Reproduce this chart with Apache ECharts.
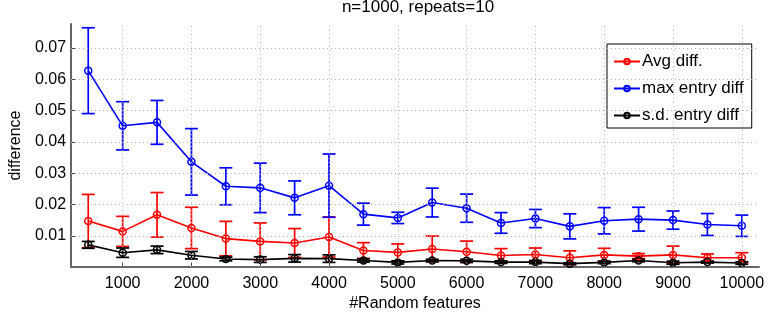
<!DOCTYPE html>
<html>
<head>
<meta charset="utf-8">
<script src="https://cdn.jsdelivr.net/npm/echarts@6/dist/echarts.min.js"></script>
<style>
  html, body { margin: 0; padding: 0; background: #fff; }
  #chart { width: 768px; height: 317px; }
</style>
</head>
<body>
<div id="chart"></div>
<script>
// 数据
const features = [500, 1000, 1500, 2000, 2500, 3000, 3500, 4000, 4500, 5000,
  5500, 6000, 6500, 7000, 7500, 8000, 8500, 9000, 9500, 10000];

const avgMean = [0.0147, 0.0114, 0.0167, 0.0125, 0.0091, 0.0082, 0.0077, 0.0096, 0.0053, 0.0047,
  0.0058, 0.0049, 0.0037, 0.0040, 0.0030, 0.0039, 0.0035, 0.0039, 0.0030, 0.0030];
const avgErr = [0.0085, 0.0048, 0.0071, 0.0066, 0.0055, 0.0059, 0.0046, 0.0064, 0.0025, 0.0027,
  0.0041, 0.0034, 0.0022, 0.0021, 0.0022, 0.0021, 0.0008, 0.0028, 0.0012, 0.0016];

const maxMean = [0.0627, 0.0451, 0.0462, 0.0336, 0.0258, 0.0253, 0.0221, 0.0260, 0.0169, 0.0157,
  0.0206, 0.0188, 0.0141, 0.0155, 0.0130, 0.0148, 0.0153, 0.0150, 0.0136, 0.0132];
const maxErr = [0.0137, 0.0077, 0.0070, 0.0106, 0.0059, 0.0079, 0.0054, 0.0101, 0.0035, 0.0018,
  0.0046, 0.0045, 0.0033, 0.0029, 0.0040, 0.0042, 0.0038, 0.0029, 0.0035, 0.0034];

const sdMean = [0.0071, 0.0046, 0.0055, 0.0038, 0.0026, 0.0024, 0.0028, 0.0027, 0.0021, 0.0015,
  0.0021, 0.0020, 0.0016, 0.0016, 0.0011, 0.0015, 0.0021, 0.0014, 0.0016, 0.0013];
const sdErr = [0.0011, 0.0015, 0.0012, 0.0012, 0.0006, 0.0009, 0.0012, 0.0012, 0.0005, 0.0005,
  0.0004, 0.0005, 0.0004, 0.0005, 0.0003, 0.0004, 0.0004, 0.0005, 0.0003, 0.0004];

const xTicks = [1000, 2000, 3000, 4000, 5000, 6000, 7000, 8000, 9000, 10000];
const yTicks = [0.01, 0.02, 0.03, 0.04, 0.05, 0.06, 0.07];

const FONT = "'Liberation Sans', Arial, sans-serif";

// 误差棒
function errorSeries(name, color, mean, err) {
  return {
    type: 'custom',
    name: name + ' err',
    data: features.map((x, i) => [x, mean[i] - err[i], mean[i] + err[i]]),
    renderItem: function (params, api) {
      const lo = api.coord([api.value(0), api.value(1)]);
      const hi = api.coord([api.value(0), api.value(2)]);
      const w = 6.5;
      const style = { stroke: color, lineWidth: 1.7 };
      return {
        type: 'group',
        children: [
          { type: 'line', shape: { x1: lo[0], y1: lo[1], x2: hi[0], y2: hi[1] }, style: style },
          { type: 'line', shape: { x1: lo[0] - w, y1: lo[1], x2: lo[0] + w, y2: lo[1] }, style: style },
          { type: 'line', shape: { x1: hi[0] - w, y1: hi[1], x2: hi[0] + w, y2: hi[1] }, style: style }
        ]
      };
    },
    silent: true,
    z: 2
  };
}

function lineSeries(name, color, mean) {
  return {
    type: 'line',
    name: name,
    data: features.map((x, i) => [x, mean[i]]),
    symbol: 'circle',
    symbolSize: 7,
    color: color,
    lineStyle: { color: color, width: 1.6 },
    itemStyle: { color: 'rgba(255,255,255,0)', borderColor: color, borderWidth: 1.5 },
    z: 3
  };
}

// 网格虚线 (markLine)
const gridStyle = { color: '#b0b0b0', type: [1, 3], width: 1 };
const gridSeries = {
  type: 'scatter',
  name: 'grid',
  data: [],
  silent: true,
  z: 1,
  markLine: {
    silent: true,
    symbol: 'none',
    label: { show: false },
    lineStyle: gridStyle,
    data: xTicks.map(v => ({ xAxis: v })).concat(yTicks.map(v => ({ yAxis: v })))
  }
};

const chart = echarts.init(document.getElementById('chart'));

chart.setOption({
  animation: false,
  title: {
    text: 'n=1000, repeats=10',
    left: 413,
    textAlign: 'center',
    top: -6,
    textStyle: { fontFamily: FONT, fontSize: 17, fontWeight: 'normal', color: '#000' }
  },
  grid: { left: 68, right: 9, top: 24, bottom: 46 },
  legend: {
    orient: 'vertical',
    left: 607,
    top: 44,
    data: ['Avg diff.', 'max entry diff', 's.d. entry diff'],
    itemWidth: 26,
    itemHeight: 7,
    itemGap: 10,
    padding: [9, 8, 4, 6],
    backgroundColor: '#fff',
    borderColor: '#000',
    borderWidth: 1,
    borderRadius: 0,
    textStyle: { fontFamily: FONT, fontSize: 17, color: '#000', padding: [0, 0, 0, -3] }
  },
  xAxis: {
    type: 'value',
    min: 250,
    max: 10250,
    name: '#Random features',
    nameLocation: 'middle',
    nameGap: 18,
    nameTextStyle: { fontFamily: FONT, fontSize: 16, color: '#000' },
    axisLine: { show: true, lineStyle: { color: '#666', width: 2 } },
    axisTick: { show: true, inside: true, length: 5, customValues: xTicks, lineStyle: { color: '#444' } },
    axisLabel: {
      customValues: xTicks, fontFamily: FONT, fontSize: 16, color: '#000', margin: 8,
      formatter: v => String(v)
    },
    splitLine: { show: false }
  },
  yAxis: {
    type: 'value',
    min: 0,
    max: 0.0776,
    name: 'difference',
    nameLocation: 'middle',
    nameGap: 42,
    nameTextStyle: { fontFamily: FONT, fontSize: 16, color: '#000' },
    axisLine: { show: true, lineStyle: { color: '#666', width: 2 } },
    axisTick: { show: true, inside: true, length: 5, customValues: yTicks, lineStyle: { color: '#444' } },
    axisLabel: {
      customValues: yTicks, fontFamily: FONT, fontSize: 16, color: '#000', margin: 5,
      formatter: v => v.toFixed(2)
    },
    splitLine: { show: false }
  },
  series: [
    gridSeries,
    errorSeries('Avg diff.', '#ff0000', avgMean, avgErr),
    lineSeries('Avg diff.', '#ff0000', avgMean),
    errorSeries('max entry diff', '#0000ff', maxMean, maxErr),
    lineSeries('max entry diff', '#0000ff', maxMean),
    errorSeries('s.d. entry diff', '#000000', sdMean, sdErr),
    lineSeries('s.d. entry diff', '#000000', sdMean)
  ]
});
</script>
</body>
</html>
